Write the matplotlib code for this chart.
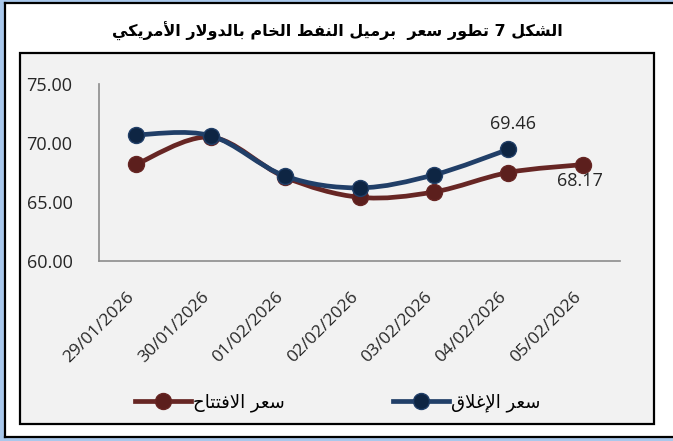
import numpy as np
import matplotlib
matplotlib.use("Agg")
import matplotlib.pyplot as plt
from matplotlib.path import Path
from matplotlib.patches import PathPatch, Rectangle
from matplotlib.transforms import ScaledTranslation

# Data
dates = ["29/01/2026", "30/01/2026", "01/02/2026", "02/02/2026",
         "03/02/2026", "04/02/2026", "05/02/2026"]
opening = [68.20, 70.50, 67.10, 65.40, 65.85, 67.50, 68.17]
closing = [70.69, 70.62, 67.20, 66.20, 67.30, 69.46]
y_ticks = [60, 65, 70, 75]

title = "الشكل 7 تطور سعر  برميل النفط الخام بالدولار الأمريكي"
label_open = "سعر الافتتاح"
label_close = "سعر الإغلاق"

# --- minimal Arabic shaping (matplotlib has no bidi / joining) ---
FORMS = {
    'ا': ('\uFE8D', '\uFE8E', None, None),
    'أ': ('\uFE83', '\uFE84', None, None),
    'إ': ('\uFE87', '\uFE88', None, None),
    'ب': ('\uFE8F', '\uFE90', '\uFE91', '\uFE92'),
    'ت': ('\uFE95', '\uFE96', '\uFE97', '\uFE98'),
    'ح': ('\uFEA1', '\uFEA2', '\uFEA3', '\uFEA4'),
    'خ': ('\uFEA5', '\uFEA6', '\uFEA7', '\uFEA8'),
    'د': ('\uFEA9', '\uFEAA', None, None),
    'ر': ('\uFEAD', '\uFEAE', None, None),
    'س': ('\uFEB1', '\uFEB2', '\uFEB3', '\uFEB4'),
    'ش': ('\uFEB5', '\uFEB6', '\uFEB7', '\uFEB8'),
    'ط': ('\uFEC1', '\uFEC2', '\uFEC3', '\uFEC4'),
    'ع': ('\uFEC9', '\uFECA', '\uFECB', '\uFECC'),
    'غ': ('\uFECD', '\uFECE', '\uFECF', '\uFED0'),
    'ف': ('\uFED1', '\uFED2', '\uFED3', '\uFED4'),
    'ق': ('\uFED5', '\uFED6', '\uFED7', '\uFED8'),
    'ك': ('\uFED9', '\uFEDA', '\uFEDB', '\uFEDC'),
    'ل': ('\uFEDD', '\uFEDE', '\uFEDF', '\uFEE0'),
    'م': ('\uFEE1', '\uFEE2', '\uFEE3', '\uFEE4'),
    'ن': ('\uFEE5', '\uFEE6', '\uFEE7', '\uFEE8'),
    'و': ('\uFEED', '\uFEEE', None, None),
    'ي': ('\uFEF1', '\uFEF2', '\uFEF3', '\uFEF4'),
    'لا': ('\uFEFB', '\uFEFC', None, None),
    'لأ': ('\uFEF7', '\uFEF8', None, None),
    'لإ': ('\uFEF9', '\uFEFA', None, None),
}


def shape(text):
    chars = []
    i = 0
    while i < len(text):
        if text[i] == 'ل' and i + 1 < len(text) and text[i + 1] in 'اأإ':
            chars.append(text[i:i + 2])
            i += 2
        else:
            chars.append(text[i])
            i += 1
    out = []
    for k, c in enumerate(chars):
        forms = FORMS.get(c)
        if forms is None:
            out.append(c)
            continue
        prev = FORMS.get(chars[k - 1]) if k > 0 else None
        nxt = FORMS.get(chars[k + 1]) if k + 1 < len(chars) else None
        jp = prev is not None and prev[2] is not None
        jn = forms[2] is not None and nxt is not None
        if jp and jn:
            out.append(forms[3])
        elif jp:
            out.append(forms[1])
        elif jn:
            out.append(forms[2])
        else:
            out.append(forms[0])
    return ''.join(reversed(out))


def smooth_path(xs, ys):
    # Excel-like smoothed line: Catmull-Rom as cubic Bezier
    pts = np.column_stack([xs, ys]).astype(float)
    verts = [pts[0]]
    codes = [Path.MOVETO]
    n = len(pts)
    for i in range(n - 1):
        p0 = pts[max(i - 1, 0)]
        p1 = pts[i]
        p2 = pts[i + 1]
        p3 = pts[min(i + 2, n - 1)]
        verts += [p1 + (p2 - p0) / 6, p2 - (p3 - p1) / 6, p2]
        codes += [Path.CURVE4] * 3
    return Path(verts, codes)


W, H = 673, 441
fig = plt.figure(figsize=(W / 100, H / 100), dpi=100)
fig.patch.set_facecolor("white")

# outer decorative frame
blue = "#a9c8ec"
for rect in [(0, 0, 4 / W, 1), (0, 1 - 2 / H, 1, 2 / H), (0, 0, 1, 4 / H)]:
    fig.patches.append(Rectangle(rect[:2], rect[2], rect[3], transform=fig.transFigure,
                                 facecolor=blue, edgecolor="none", zorder=-3))
fig.add_artist(plt.Line2D([4.5 / W, 4.5 / W], [4.5 / H, 1 - 2.5 / H], color="black",
                          lw=1.6, zorder=-2))
fig.add_artist(plt.Line2D([4.5 / W, 1], [1 - 2.5 / H, 1 - 2.5 / H], color="black",
                          lw=1.6, zorder=-2))
fig.add_artist(plt.Line2D([4.5 / W, 1], [4.5 / H, 4.5 / H], color="black",
                          lw=1.6, zorder=-2))

# inner chart box
fig.patches.append(Rectangle((20 / W, 1 - 424 / H), 634 / W, 371 / H,
                             transform=fig.transFigure, facecolor="#f2f2f2",
                             edgecolor="black", lw=1.6, zorder=-1))

fig.text(337 / W, 1 - 31 / H, shape(title), ha="center", va="center",
         fontsize=11.5, fontweight="bold", family="DejaVu Sans")

ax = fig.add_axes([99 / W, 1 - 261 / H, 521 / W, 177 / H])
ax.set_facecolor("none")
ax.set_zorder(1)

x_open = np.arange(len(opening))
x_close = np.arange(len(closing))

c_open_line, c_open_mk = "#672624", "#5c1f1d"
c_close_line, c_close_mk = "#213f68", "#0e2543"

ax.add_patch(PathPatch(smooth_path(x_open, opening), facecolor="none",
                       edgecolor=c_open_line, lw=3.4, capstyle="round", zorder=2))
ax.plot(x_open, opening, ls="none", marker="o", ms=11.5, mfc=c_open_mk,
        mec=c_open_line, mew=1, zorder=3)
ax.add_patch(PathPatch(smooth_path(x_close, closing), facecolor="none",
                       edgecolor=c_close_line, lw=3.4, capstyle="round", zorder=4))
ax.plot(x_close, closing, ls="none", marker="o", ms=11.5, mfc=c_close_mk,
        mec=c_close_line, mew=1, zorder=5)

ax.annotate(f"{closing[-1]:.2f}", (x_close[-1], closing[-1]), xytext=(3, 18),
            textcoords="offset points", ha="center", va="center",
            fontsize=13, family="Open Sans", color="#262626")
ax.annotate(f"{opening[-1]:.2f}", (x_open[-1], opening[-1]), xytext=(-2, -12),
            textcoords="offset points", ha="center", va="center",
            fontsize=13, family="Open Sans", color="#262626")

ax.set_xlim(-0.5, len(dates) - 0.5)
ax.set_ylim(60, 75)
ax.set_yticks(y_ticks)
ax.set_yticklabels([f"{v:.2f}" for v in y_ticks], family="Open Sans",
                   fontsize=13, color="#262626")
ax.set_xticks(np.arange(len(dates)))
ax.set_xticklabels(dates, rotation=45, ha="right", va="center",
                   rotation_mode="anchor", family="Open Sans",
                   fontsize=12.5, color="#262626")
ax.tick_params(axis="y", length=0, pad=19)
ax.tick_params(axis="x", length=0, pad=24)
shift = ScaledTranslation(-4 / 100, 0, fig.dpi_scale_trans)
for lbl in ax.get_xticklabels():
    lbl.set_transform(lbl.get_transform() + shift)

for s in ["top", "right"]:
    ax.spines[s].set_visible(False)
for s in ["left", "bottom"]:
    ax.spines[s].set_color("#8c8c8c")
    ax.spines[s].set_linewidth(1.2)

h_open = plt.Line2D([], [], color=c_open_line, lw=3.4, marker="o", ms=11.5,
                    mfc=c_open_mk, mec=c_open_line)
h_close = plt.Line2D([], [], color=c_close_line, lw=3.4, marker="o", ms=11.5,
                     mfc=c_close_mk, mec=c_close_line)
fig.legend([h_open, h_close], [shape(label_open), shape(label_close)],
           loc="center", bbox_to_anchor=(338 / W, 1 - 403 / H), ncol=2,
           frameon=False, handlelength=3.1, handletextpad=0.1,
           columnspacing=6, prop={"family": "DejaVu Sans", "size": 13})

fig.savefig("out.png", dpi=100)
